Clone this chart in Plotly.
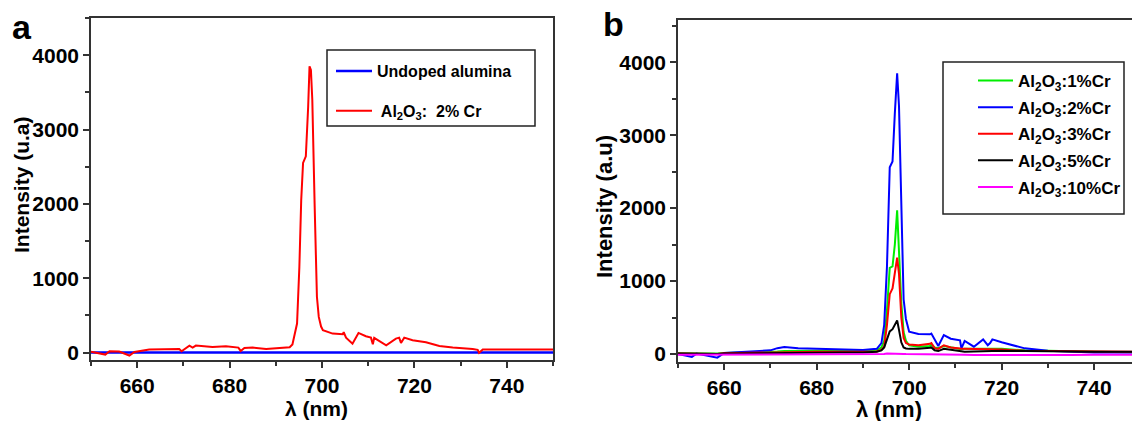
import plotly.graph_objects as go

# ---------------- data ----------------
# Panel a
a_undoped_x = [650, 675, 700, 725, 750]
a_undoped_y = [0, 0, 0, 0, 0]

a_cr2_x = [650, 653.1, 654, 656.1, 658.3, 659.4, 662.6, 665.5, 669.1, 669.6, 671.3, 672, 672.7,
           676.3, 679.2, 681.9, 682.4, 683.2, 685, 687.9, 690.8, 693, 693.6, 694.6, 695.1, 695.5,
           695.9, 696.5, 697.0, 697.3, 697.6, 697.9, 698.4, 698.9, 699.3, 699.8, 700.2, 702.3,
           704.5, 704.7, 705.2, 706.6, 707.9, 709.5, 710.6, 711, 711.3, 713.9, 716, 716.7, 717.1,
           717.8, 719.6, 722.5, 725.4, 728.3, 732.6, 733.7, 734, 734.8, 738.4, 744.9, 750]
a_cr2_y = [10, -27, 18, 13, -40, 9, 40, 40, 49, 18, 94, 67, 94,
           76, 85, 67, 22, 63, 67, 49, 58, 72, 110, 390, 1150, 2050,
           2550, 2640, 3300, 3850, 3800, 3400, 2000, 750, 480, 350, 300, 255,
           246, 273, 201, 120, 264, 219, 201, 112, 197, 98, 188, 201, 130,
           201, 165, 139, 89, 67, 49, 36, -4, 40, 40, 40, 40]

# Panel b
b_x = [650, 653, 654, 658.5, 660, 665, 670, 671.5, 673, 676, 680, 685, 690, 693, 694, 694.6,
       695.2, 695.8, 696.4, 696.9, 697.4, 697.8, 698.3, 698.8, 699.3, 700, 702, 704.5, 704.8,
       705.5, 706.3, 707.5, 709, 711, 711.3, 712, 714, 716, 717, 717.5, 718, 720, 725, 730,
       735, 740, 748.5]
b_cr1 = [10, 5, 8, 5, 15, 20, 30, 35, 40, 40, 40, 40, 40, 50, 90, 180,
         600, 1180, 1200, 1500, 1970, 1400, 700, 300, 180, 120, 100, 110, 130,
         90, 80, 110, 90, 70, 65, 70, 70, 75, 80, 75, 75, 70, 50, 40,
         35, 30, 25]
b_cr2 = [0, -40, 5, -50, 15, 30, 50, 80, 95, 80, 75, 60, 55, 70, 150, 400,
         1200, 2560, 2640, 3300, 3850, 3400, 2000, 750, 480, 305, 273, 270, 280,
         200, 110, 260, 210, 187, 77, 178, 100, 200, 120, 150, 200, 160, 77, 45,
         30, 20, 20]
b_cr3 = [5, 0, 5, 0, 10, 15, 25, 30, 30, 30, 30, 30, 30, 35, 60, 100,
         400, 820, 900, 1100, 1320, 1100, 500, 220, 150, 130, 120, 140, 150,
         80, 70, 120, 90, 75, 70, 70, 70, 70, 70, 65, 65, 60, 45, 40,
         35, 30, 30]
b_cr5 = [5, 0, 5, 0, 5, 10, 15, 15, 15, 15, 15, 20, 20, 30, 50, 90,
         200, 310, 340, 400, 460, 330, 160, 90, 75, 70, 70, 85, 90,
         50, 40, 70, 55, 40, 30, 30, 35, 40, 40, 40, 40, 45, 40, 35,
         30, 30, 30]
b_cr10 = [-10, -10, -10, -8, -5, -5, -5, -3, -3, 0, 0, 0, 0, 0, 0, 0,
          5, 5, 8, 10, 10, 5, 0, 0, -2, -3, -5, -5, -5,
          -8, -8, -10, -10, -12, -12, -12, -13, -14, -15, -15, -15, -15, -15, -15,
          -14, -12, -10]

# tick labels
x_ticks = [660, 680, 700, 720, 740]
y_ticks = [0, 1000, 2000, 3000, 4000]

W, H = 1132, 421
FONT = "Liberation Sans"


def px(x):
    return x / W


def py(y):
    return 1 - y / H


sub = "Al<sub>2</sub>O<sub>3</sub>"

fig = go.Figure()

fig.add_trace(go.Scatter(x=a_undoped_x, y=a_undoped_y, mode="lines", name="Undoped alumina",
                         line=dict(color="#0000ff", width=2.5), xaxis="x", yaxis="y",
                         legend="legend", legendgroup="a1"))
fig.add_trace(go.Scatter(x=a_cr2_x, y=a_cr2_y, mode="lines", name=" " + sub + ":  2% Cr",
                         line=dict(color="#ff0000", width=2), xaxis="x", yaxis="y",
                         legend="legend", legendgroup="a2"))

series_b = [("1%Cr", b_cr1, "#00ee00"), ("2%Cr", b_cr2, "#0000ff"), ("3%Cr", b_cr3, "#ff0000"),
            ("5%Cr", b_cr5, "#000000"), ("10%Cr", b_cr10, "#ff00ff")]
for i, (lab, ys, col) in enumerate(series_b):
    fig.add_trace(go.Scatter(x=b_x, y=ys, mode="lines", name=sub + ":" + lab,
                             line=dict(color=col, width=2), xaxis="x2", yaxis="y2",
                             legend="legend2", legendgroup="b%d" % i, legendrank=i + 1))

axis_common = dict(showgrid=False, zeroline=False, showline=True, linecolor="#333333",
                   linewidth=1.5, ticks="outside", ticklen=6, tickwidth=1.5, tickcolor="#333333",
                   automargin=False,
                   tickfont=dict(family=FONT, size=21, color="black", weight="bold"),
                   minor=dict(ticks="outside", ticklen=4, tickwidth=1.5, tickcolor="#333333"))

fig.update_layout(
    width=W, height=H, margin=dict(l=0, r=0, t=0, b=0, autoexpand=False),
    paper_bgcolor="white", plot_bgcolor="white",
    xaxis=dict(domain=[px(91), px(553)], range=[650, 750], anchor="y", mirror=True,
               tickvals=x_ticks, minor_dtick=10, **axis_common),
    yaxis=dict(domain=[py(360), py(18)], range=[-100, 4500], anchor="x", mirror=True,
               tickvals=y_ticks, minor_dtick=500, **axis_common),
    xaxis2=dict(domain=[px(678), 1.0], range=[650, 748.2], anchor="y2", mirror=True,
                tickvals=x_ticks, minor_dtick=10, **axis_common),
    yaxis2=dict(domain=[py(362), py(20)], range=[-110, 4580], anchor="x2", mirror=False,
                tickvals=y_ticks, minor_dtick=500, **axis_common),
    legend=dict(x=px(331), y=py(54), xanchor="left", yanchor="top", bgcolor="rgba(0,0,0,0)",
                borderwidth=0, font=dict(family=FONT, size=16, color="black", weight="bold"),
                itemwidth=36, tracegroupgap=16, traceorder="grouped"),
    legend2=dict(x=px(973), y=py(63), xanchor="left", yanchor="top", bgcolor="rgba(0,0,0,0)",
                 borderwidth=0, font=dict(family=FONT, size=17, color="black", weight="bold"),
                 itemwidth=35, tracegroupgap=1.5, traceorder="grouped"),
    showlegend=True,
)

# legend frames
fig.add_shape(type="rect", xref="paper", yref="paper", x0=px(327), x1=px(535), y0=py(126), y1=py(50),
              line=dict(color="#222222", width=1.5), fillcolor="rgba(0,0,0,0)")
fig.add_shape(type="rect", xref="paper", yref="paper", x0=px(943), x1=px(1124), y0=py(214), y1=py(62),
              line=dict(color="#222222", width=1.5), fillcolor="rgba(0,0,0,0)")

annots = [
    dict(text="a", x=px(22), y=py(27), size=34),
    dict(text="b", x=px(613), y=py(24), size=34),
    dict(text="Intensity (u.a)", x=px(21), y=py(185), size=21, angle=-90),
    dict(text="Intensity (a.u)", x=px(604), y=py(207), size=22, angle=-90),
    dict(text="λ (nm)", x=px(316), y=py(408), size=21),
    dict(text="λ (nm)", x=px(889), y=py(409), size=22),
]
for a in annots:
    fig.add_annotation(text=a["text"], x=a["x"], y=a["y"], xref="paper", yref="paper",
                       xanchor="center", yanchor="middle", showarrow=False,
                       textangle=a.get("angle", 0),
                       font=dict(family=FONT, size=a["size"], color="black", weight="bold"))

fig.write_html("out.html", config={"displayModeBar": False},
               post_script="document.body.style.margin='0';document.body.style.overflow='hidden';")
